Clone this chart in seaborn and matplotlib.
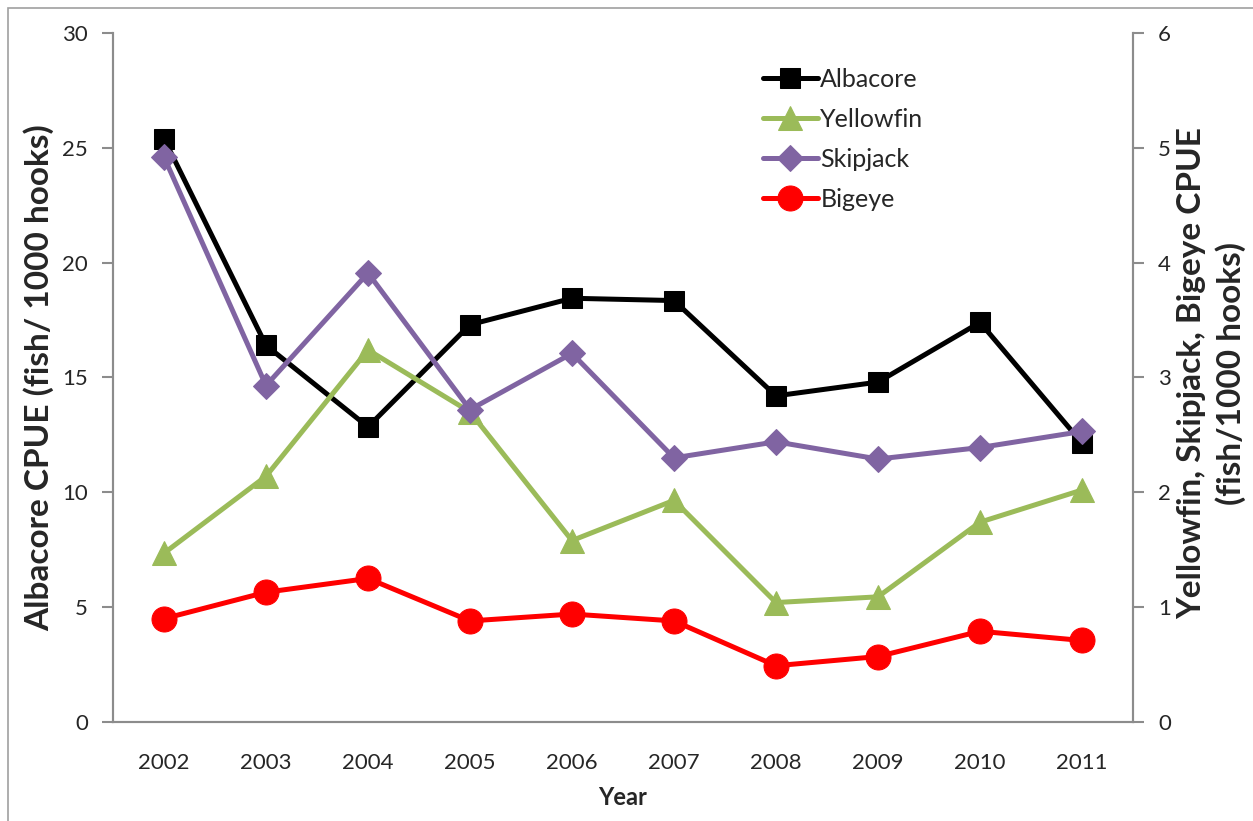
import numpy as np
import pandas as pd
import matplotlib.pyplot as plt
import seaborn as sns
from matplotlib.patches import Rectangle

years = ["2002", "2003", "2004", "2005", "2006", "2007", "2008", "2009", "2010", "2011"]
albacore = [25.4, 16.4, 12.85, 17.3, 18.45, 18.35, 14.2, 14.8, 17.4, 12.15]
yellowfin = [1.47, 2.14, 3.24, 2.70, 1.58, 1.93, 1.04, 1.09, 1.74, 2.02]
skipjack = [4.92, 2.93, 3.91, 2.72, 3.21, 2.30, 2.44, 2.29, 2.39, 2.53]
bigeye = [0.90, 1.13, 1.25, 0.88, 0.94, 0.88, 0.49, 0.57, 0.79, 0.71]

sns.set_style("white")
plt.rcParams["font.family"] = ["Lato", "DejaVu Sans"]

df = pd.DataFrame({"pos": np.arange(len(years)), "Albacore": albacore,
                   "Yellowfin": yellowfin, "Skipjack": skipjack, "Bigeye": bigeye})

fig = plt.figure(figsize=(12.53, 8.21), dpi=100)
ax = fig.add_axes([0.0902, 0.1206, 0.814, 0.8392])
ax2 = ax.twinx()

grey = "#8c8c8c"
lw = 3.6

sns.lineplot(data=df, x="pos", y="Albacore", ax=ax, color="black", marker="s",
             markersize=14, linewidth=lw, markeredgecolor="black", label="Albacore", legend=False)
sns.lineplot(data=df, x="pos", y="Yellowfin", ax=ax2, color="#9bbb59", marker="^",
             markersize=17, linewidth=lw, markeredgecolor="#9bbb59", label="Yellowfin", legend=False)
sns.lineplot(data=df, x="pos", y="Skipjack", ax=ax2, color="#8064a2", marker="D",
             markersize=13, linewidth=lw, markeredgecolor="#8064a2", label="Skipjack", legend=False)
sns.lineplot(data=df, x="pos", y="Bigeye", ax=ax2, color="#ff0000", marker="o",
             markersize=18, linewidth=lw, markeredgecolor="#ff0000", label="Bigeye", legend=False)

ax.set_xlim(-0.5, len(years) - 0.5)
ax.set_ylim(0, 30)
ax2.set_ylim(0, 6)
ax.set_yticks(range(0, 31, 5))
ax2.set_yticks(range(0, 7))

ax.set_xticks(np.arange(len(years)))
ax.set_xticklabels(years)
ax.set_xticks(np.arange(len(years) + 1) - 0.5, minor=True)
ax.tick_params(axis="x", which="major", length=0, labelsize=16, pad=22)
ax.tick_params(axis="x", which="minor", length=8, width=1.5, color=grey, direction="out")
ax.tick_params(axis="y", length=8, width=1.5, color=grey, direction="out", labelsize=16, pad=10)
ax2.tick_params(axis="y", length=8, width=1.5, color=grey, direction="out", labelsize=16, pad=10)

for a in (ax, ax2):
    a.spines["top"].set_visible(False)
    for s in ("left", "right", "bottom"):
        a.spines[s].set_color(grey)
        a.spines[s].set_linewidth(1.5)

ax.set_xlabel("Year", fontsize=17, fontweight="bold", labelpad=10)
ax.set_ylabel("Albacore CPUE (fish/ 1000 hooks)", fontsize=24, fontweight="bold", labelpad=6)
ax2.set_ylabel("")
fig.text(1212 / 1253, 0.5 + (0.1206 + 0.9598 - 1) / 2 + 0.005,
         "Yellowfin, Skipjack, Bigeye CPUE\n(fish/1000 hooks)", rotation=90,
         ha="center", va="center", fontsize=24, fontweight="bold", multialignment="center",
         linespacing=1.35)

h1, l1 = ax.get_legend_handles_labels()
h2, l2 = ax2.get_legend_handles_labels()
ax2.legend(h1 + h2, l1 + l2, loc="upper left", bbox_to_anchor=(0.615, 0.982), frameon=False,
           fontsize=18, handlelength=2.2, handletextpad=0.1, labelspacing=0.68)

fig.patches.append(Rectangle((8 / 1253, -0.1), 1.2, 1.1 - 8 / 821, transform=fig.transFigure,
                             fill=False, edgecolor="#a0a0a0", linewidth=1.2))

fig.savefig("out.png", dpi=100)
